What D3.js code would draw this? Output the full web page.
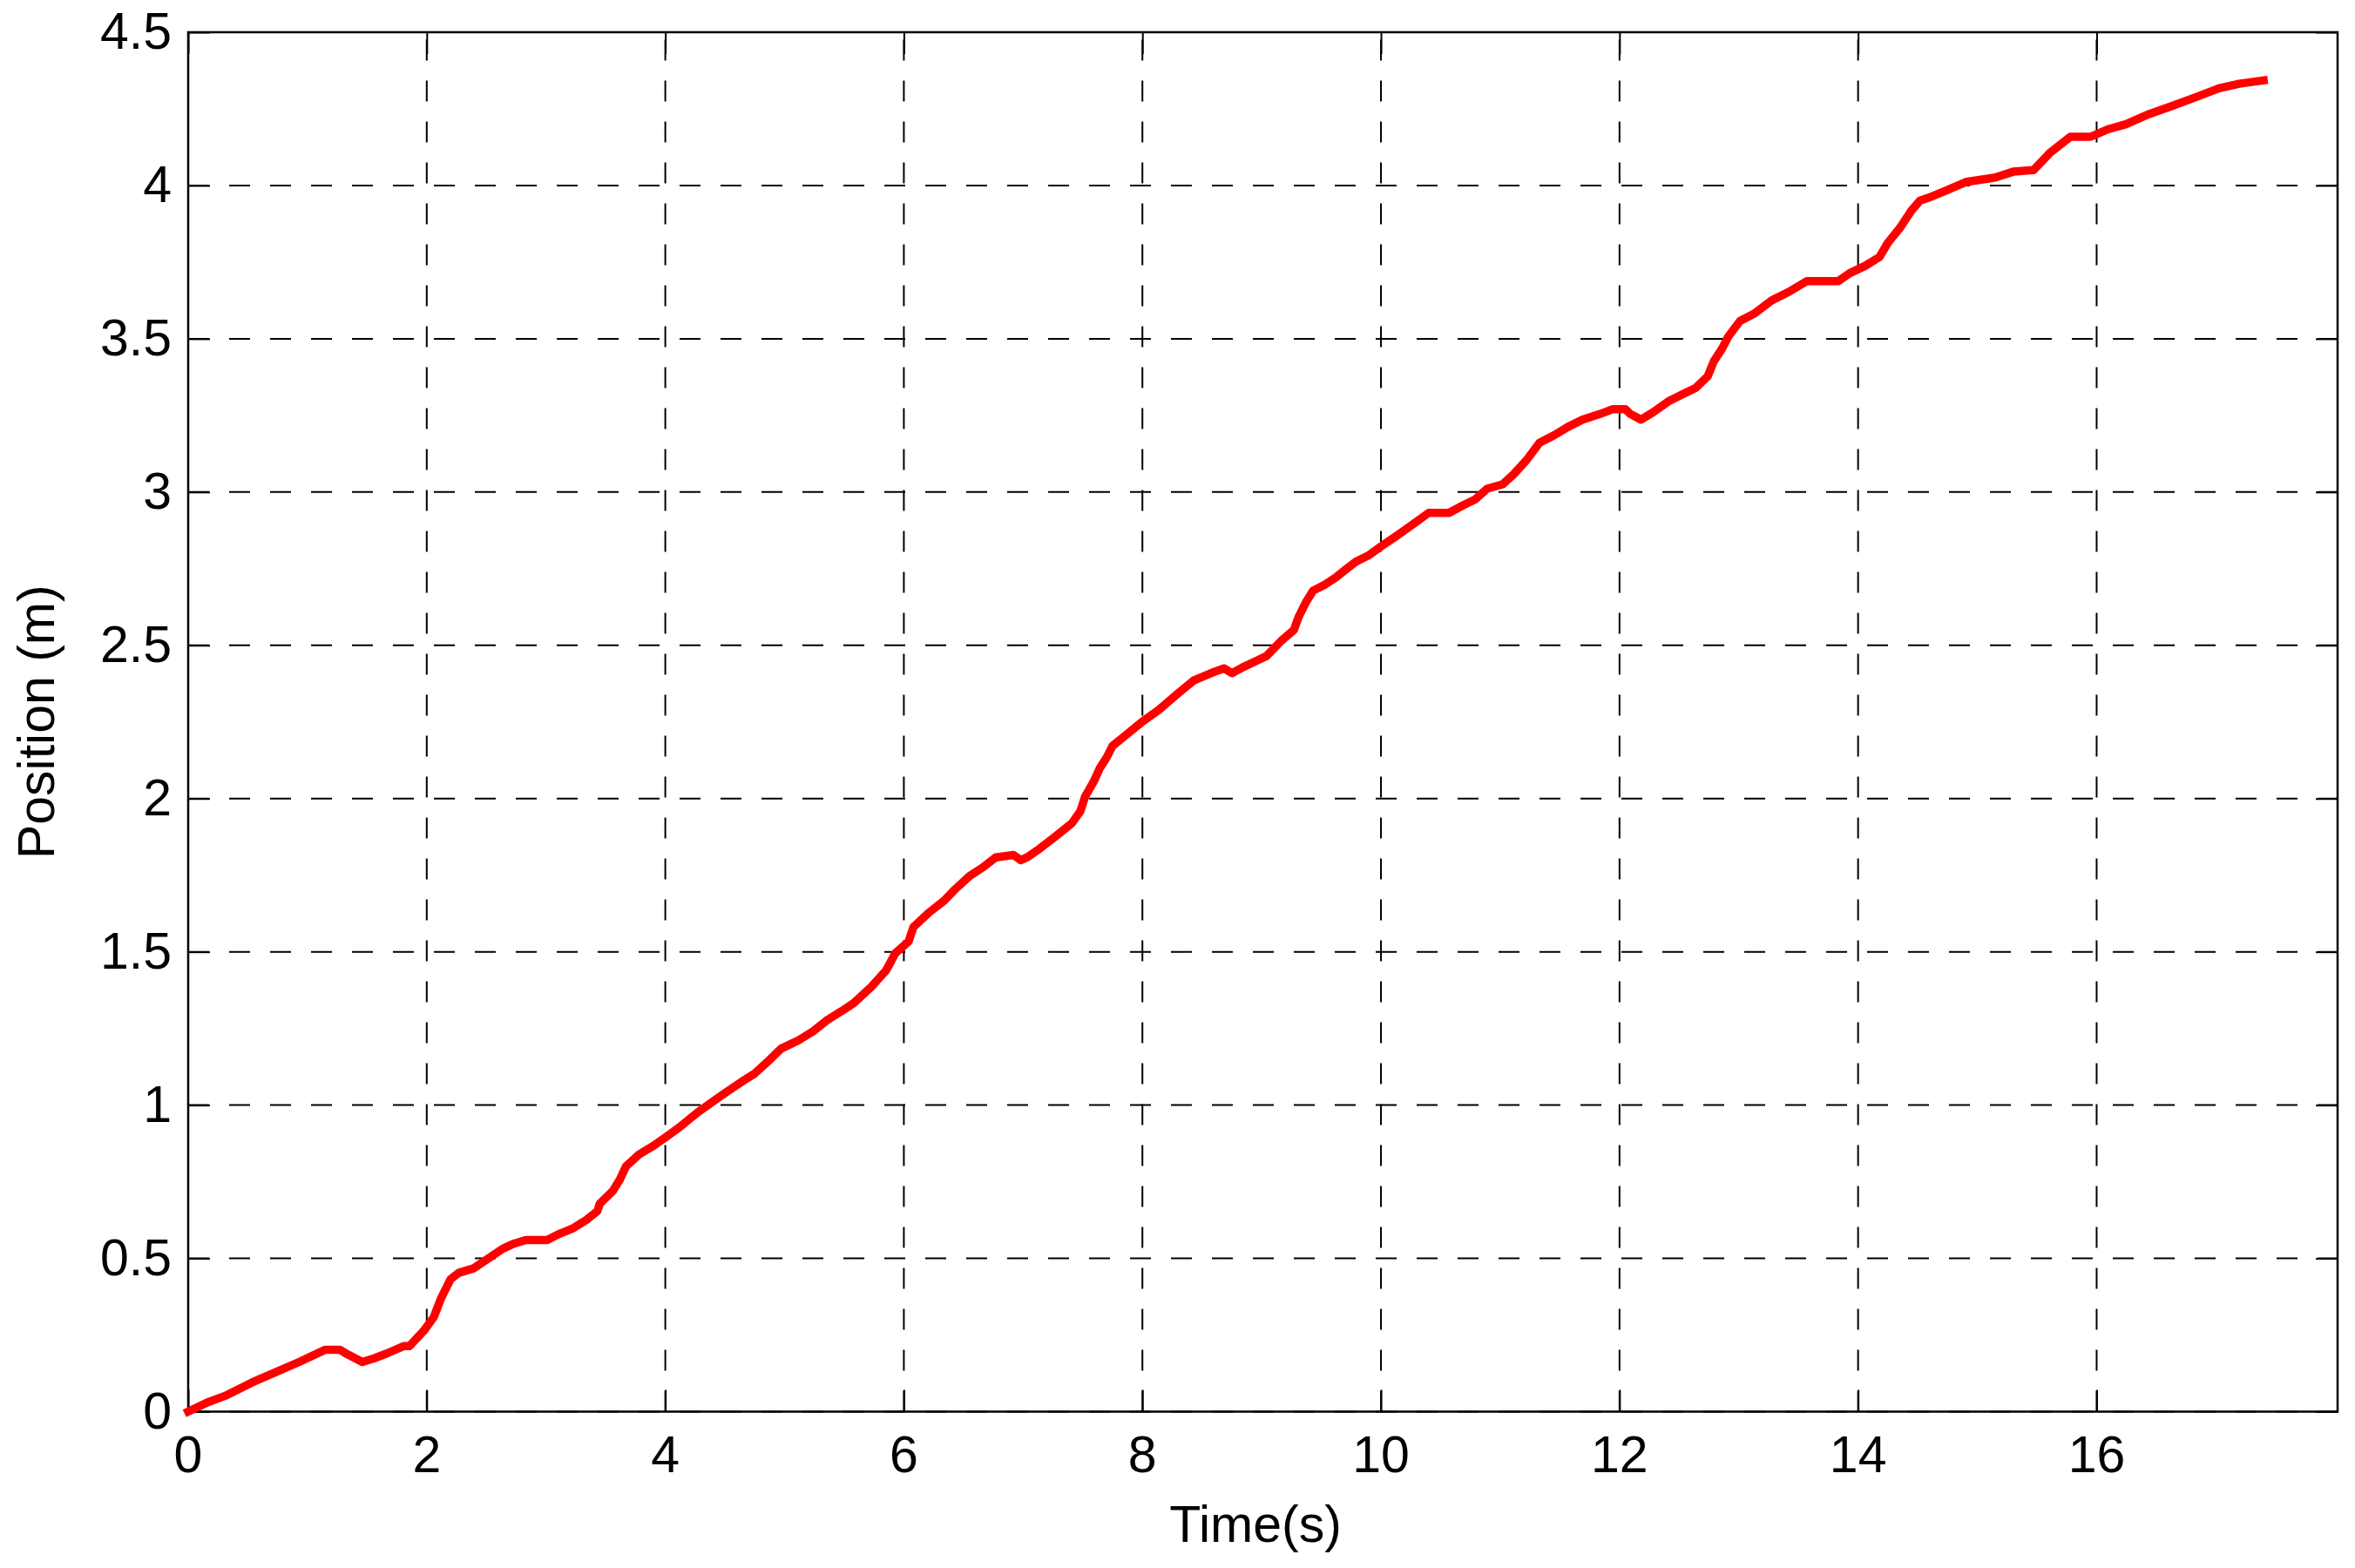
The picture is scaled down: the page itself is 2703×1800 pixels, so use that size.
<!DOCTYPE html>
<html>
<head>
<meta charset="utf-8">
<script src="https://cdn.jsdelivr.net/npm/d3@7"></script>
<style>
    body { margin: 0; background: #fff; }
    text { font-family: "Liberation Sans", Arial, sans-serif; fill: #000; }
</style>
</head>
<body>
<script>
//position vs time data
var timeS = [0, 0.16, 0.32, 0.54, 0.735, 0.93, 1.15, 1.27, 1.34, 1.46, 1.56, 1.66, 1.81, 1.855,
    1.98, 2.06, 2.12, 2.20, 2.27, 2.39, 2.51, 2.635, 2.73, 2.83, 3.01, 3.10, 3.22, 3.34, 3.43,
    3.45, 3.56, 3.62, 3.67, 3.78, 3.90, 4.02, 4.12, 4.27, 4.39, 4.51, 4.655, 4.75, 4.87, 4.97,
    5.12, 5.24, 5.36, 5.48, 5.58, 5.73, 5.85, 5.93, 6.04, 6.08, 6.21, 6.335, 6.43, 6.55, 6.66,
    6.77, 6.92, 6.98, 7.04, 7.14, 7.28, 7.41, 7.48, 7.52, 7.59, 7.64, 7.70, 7.75, 7.87, 7.99,
    8.14, 8.31, 8.43, 8.60, 8.685, 8.75, 8.84, 8.965, 9.04, 9.16, 9.27, 9.31, 9.37, 9.43,
    9.525, 9.62, 9.70, 9.79, 9.89, 10.01, 10.135, 10.255, 10.40, 10.57, 10.69, 10.79, 10.89,
    11.02, 11.11, 11.22, 11.33, 11.45, 11.57, 11.69, 11.84, 11.94, 12.05, 12.09, 12.18, 12.28,
    12.42, 12.545, 12.64, 12.74, 12.79, 12.86, 12.91, 13.01, 13.13, 13.275, 13.42, 13.57,
    13.835, 13.93, 14.06, 14.18, 14.25, 14.35, 14.445, 14.52, 14.59, 14.74, 14.91, 15.15,
    15.30, 15.47, 15.61, 15.78, 15.95, 16.10, 16.245, 16.44, 16.635, 16.83, 17.025, 17.195, 17.40];

var positionM = [0, 0.03, 0.053, 0.096, 0.129, 0.162, 0.202, 0.202, 0.186, 0.162, 0.174, 0.189,
    0.214, 0.214, 0.266, 0.309, 0.37, 0.432, 0.453, 0.467, 0.498, 0.531, 0.548, 0.56, 0.56,
    0.578, 0.597, 0.626, 0.654, 0.678, 0.72, 0.758, 0.80, 0.839, 0.867, 0.90, 0.928, 0.976,
    1.009, 1.042, 1.08, 1.103, 1.146, 1.184, 1.212, 1.241, 1.278, 1.307, 1.333, 1.387, 1.439,
    1.496, 1.534, 1.581, 1.628, 1.666, 1.704, 1.747, 1.775, 1.808, 1.816, 1.799, 1.81, 1.837,
    1.879, 1.92, 1.959, 2.007, 2.054, 2.097, 2.134, 2.172, 2.21, 2.248, 2.29, 2.347, 2.385,
    2.413, 2.425, 2.409, 2.428, 2.451, 2.465, 2.513, 2.55, 2.593, 2.64, 2.678, 2.697, 2.721,
    2.746, 2.773, 2.792, 2.825, 2.858, 2.891, 2.932, 2.932, 2.957, 2.976, 3.011, 3.025, 3.057,
    3.104, 3.161, 3.185, 3.213, 3.236, 3.255, 3.27, 3.27, 3.255, 3.236, 3.26, 3.298, 3.322,
    3.34, 3.378, 3.426, 3.468, 3.506, 3.558, 3.582, 3.625, 3.653, 3.688, 3.688, 3.714, 3.738,
    3.767, 3.813, 3.861, 3.917, 3.951, 3.96, 3.984, 4.012, 4.026, 4.045, 4.05, 4.107, 4.159,
    4.159, 4.184, 4.2, 4.233, 4.26, 4.288, 4.317, 4.332, 4.343];

var xTicks = [0, 2, 4, 6, 8, 10, 12, 14, 16];
var yTicks = [0, 0.5, 1, 1.5, 2, 2.5, 3, 3.5, 4, 4.5];

window.onload = drawChart();

function drawChart(){

    var width = 2703,
        height = 1800;

    //plot box edges in pixels
    var left = 216,
        right = 2683,
        top = 37,
        bottom = 1620.5;
    var tickLen = 25;

    var svg = d3.select("body")
        .append("svg")
        .attr("width", width)
        .attr("height", height);

    var x = d3.scaleLinear()
        .domain([0, 18.02])
        .range([left, right]);

    var y = d3.scaleLinear()
        .domain([0, 4.5])
        .range([bottom, top]);

    //dashed grid
    svg.selectAll(".vgrid")
        .data(xTicks)
        .enter()
        .append("line")
        .attr("class", "vgrid")
        .attr("x1", function(d){ return x(d); })
        .attr("x2", function(d){ return x(d); })
        .attr("y1", bottom)
        .attr("y2", top)
        .attr("stroke", "#000")
        .attr("stroke-width", 2)
        .attr("stroke-dasharray", "24,23");

    svg.selectAll(".hgrid")
        .data(yTicks)
        .enter()
        .append("line")
        .attr("class", "hgrid")
        .attr("x1", left)
        .attr("x2", right)
        .attr("y1", function(d){ return y(d); })
        .attr("y2", function(d){ return y(d); })
        .attr("stroke", "#000")
        .attr("stroke-width", 2)
        .attr("stroke-dasharray", "24,23");

    //axes with inward ticks on all four sides
    var xAxis = svg.append("g")
        .attr("transform", "translate(0," + bottom + ")")
        .call(d3.axisBottom(x).tickValues(xTicks).tickSizeInner(-tickLen).tickSizeOuter(0).tickFormat(""));
    var xAxisTop = svg.append("g")
        .attr("transform", "translate(0," + top + ")")
        .call(d3.axisTop(x).tickValues(xTicks).tickSizeInner(-tickLen).tickSizeOuter(0).tickFormat(""));
    var yAxis = svg.append("g")
        .attr("transform", "translate(" + left + ",0)")
        .call(d3.axisLeft(y).tickValues(yTicks).tickSizeInner(-tickLen).tickSizeOuter(0).tickFormat(""));
    var yAxisRight = svg.append("g")
        .attr("transform", "translate(" + right + ",0)")
        .call(d3.axisRight(y).tickValues(yTicks).tickSizeInner(-tickLen).tickSizeOuter(0).tickFormat(""));

    svg.selectAll(".domain").remove();
    svg.selectAll(".tick line")
        .attr("stroke", "#000")
        .attr("stroke-width", 2);

    //box
    svg.append("rect")
        .attr("x", left)
        .attr("y", top)
        .attr("width", right - left)
        .attr("height", bottom - top)
        .attr("fill", "none")
        .attr("stroke", "#000")
        .attr("stroke-width", 2.5);

    //tick labels
    svg.selectAll(".xlab")
        .data(xTicks)
        .enter()
        .append("text")
        .attr("class", "xlab")
        .attr("x", function(d){ return x(d); })
        .attr("y", 1690)
        .attr("text-anchor", "middle")
        .style("font-size", "59px")
        .text(function(d){ return d; });

    svg.selectAll(".ylab")
        .data(yTicks)
        .enter()
        .append("text")
        .attr("class", "ylab")
        .attr("x", 197)
        .attr("y", function(d){ return y(d) + 19; })
        .attr("text-anchor", "end")
        .style("font-size", "59px")
        .text(function(d){ return d; });

    //axis titles
    svg.append("text")
        .attr("x", 1441)
        .attr("y", 1770)
        .attr("text-anchor", "middle")
        .style("font-size", "59px")
        .text("Time(s)");

    svg.append("text")
        .attr("transform", "translate(62," + ((top + bottom) / 2) + ") rotate(-90)")
        .attr("text-anchor", "middle")
        .style("font-size", "59px")
        .text("Position (m)");

    //the red trajectory
    var line = d3.line()
        .x(function(d, i){ return x(timeS[i]); })
        .y(function(d){ return y(d); });

    svg.append("path")
        .datum(positionM)
        .attr("d", line)
        .attr("fill", "none")
        .attr("stroke", "#ff0000")
        .attr("stroke-width", 9.5)
        .attr("stroke-linejoin", "round")
        .attr("stroke-linecap", "square");
};
</script>
</body>
</html>
